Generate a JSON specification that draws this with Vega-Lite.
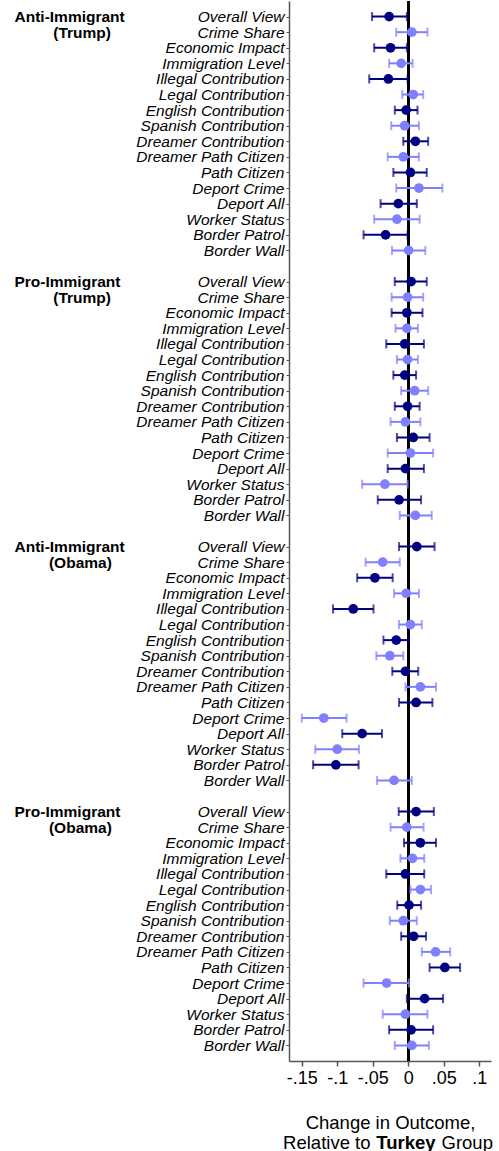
{
"$schema": "https://vega.github.io/schema/vega-lite/v6.json",
"width": 202,
"height": 1060,
"padding": {"left": 14, "top": 0, "right": 0, "bottom": 0},
"config": {"font": "Liberation Sans", "view": {"stroke": null}},
"data": {"values": [
{"key":"g1|Overall View","est":-0.027,"lo":-0.051,"hi":-0.002,"set":"A"},
{"key":"g1|Crime Share","est":0.005,"lo":-0.017,"hi":0.027,"set":"B"},
{"key":"g1|Economic Impact","est":-0.025,"lo":-0.048,"hi":-0.002,"set":"A"},
{"key":"g1|Immigration Level","est":-0.010,"lo":-0.027,"hi":0.006,"set":"B"},
{"key":"g1|Illegal Contribution","est":-0.028,"lo":-0.055,"hi":-0.001,"set":"A"},
{"key":"g1|Legal Contribution","est":0.007,"lo":-0.0085,"hi":0.021,"set":"B"},
{"key":"g1|English Contribution","est":-0.003,"lo":-0.019,"hi":0.013,"set":"A"},
{"key":"g1|Spanish Contribution","est":-0.005,"lo":-0.024,"hi":0.015,"set":"B"},
{"key":"g1|Dreamer Contribution","est":0.010,"lo":-0.007,"hi":0.028,"set":"A"},
{"key":"g1|Dreamer Path Citizen","est":-0.007,"lo":-0.029,"hi":0.015,"set":"B"},
{"key":"g1|Path Citizen","est":0.003,"lo":-0.021,"hi":0.026,"set":"A"},
{"key":"g1|Deport Crime","est":0.015,"lo":-0.017,"hi":0.048,"set":"B"},
{"key":"g1|Deport All","est":-0.014,"lo":-0.039,"hi":0.012,"set":"A"},
{"key":"g1|Worker Status","est":-0.016,"lo":-0.048,"hi":0.016,"set":"B"},
{"key":"g1|Border Patrol","est":-0.032,"lo":-0.063,"hi":-0.001,"set":"A"},
{"key":"g1|Border Wall","est":0.0005,"lo":-0.023,"hi":0.024,"set":"B"},
{"key":"g2|Overall View","est":0.004,"lo":-0.019,"hi":0.026,"set":"A"},
{"key":"g2|Crime Share","est":-0.001,"lo":-0.0235,"hi":0.021,"set":"B"},
{"key":"g2|Economic Impact","est":-0.002,"lo":-0.0235,"hi":0.020,"set":"A"},
{"key":"g2|Immigration Level","est":-0.002,"lo":-0.018,"hi":0.0135,"set":"B"},
{"key":"g2|Illegal Contribution","est":-0.005,"lo":-0.031,"hi":0.022,"set":"A"},
{"key":"g2|Legal Contribution","est":-0.001,"lo":-0.016,"hi":0.0135,"set":"B"},
{"key":"g2|English Contribution","est":-0.005,"lo":-0.021,"hi":0.011,"set":"A"},
{"key":"g2|Spanish Contribution","est":0.009,"lo":-0.010,"hi":0.028,"set":"B"},
{"key":"g2|Dreamer Contribution","est":-0.001,"lo":-0.019,"hi":0.016,"set":"A"},
{"key":"g2|Dreamer Path Citizen","est":-0.004,"lo":-0.025,"hi":0.017,"set":"B"},
{"key":"g2|Path Citizen","est":0.007,"lo":-0.016,"hi":0.030,"set":"A"},
{"key":"g2|Deport Crime","est":0.003,"lo":-0.029,"hi":0.035,"set":"B"},
{"key":"g2|Deport All","est":-0.004,"lo":-0.029,"hi":0.022,"set":"A"},
{"key":"g2|Worker Status","est":-0.033,"lo":-0.065,"hi":-0.001,"set":"B"},
{"key":"g2|Border Patrol","est":-0.013,"lo":-0.043,"hi":0.018,"set":"A"},
{"key":"g2|Border Wall","est":0.010,"lo":-0.012,"hi":0.033,"set":"B"},
{"key":"g3|Overall View","est":0.012,"lo":-0.013,"hi":0.037,"set":"A"},
{"key":"g3|Crime Share","est":-0.036,"lo":-0.060,"hi":-0.012,"set":"B"},
{"key":"g3|Economic Impact","est":-0.047,"lo":-0.072,"hi":-0.022,"set":"A"},
{"key":"g3|Immigration Level","est":-0.003,"lo":-0.020,"hi":0.015,"set":"B"},
{"key":"g3|Illegal Contribution","est":-0.0775,"lo":-0.106,"hi":-0.049,"set":"A"},
{"key":"g3|Legal Contribution","est":0.003,"lo":-0.013,"hi":0.019,"set":"B"},
{"key":"g3|English Contribution","est":-0.017,"lo":-0.035,"hi":0.001,"set":"A"},
{"key":"g3|Spanish Contribution","est":-0.026,"lo":-0.045,"hi":-0.007,"set":"B"},
{"key":"g3|Dreamer Contribution","est":-0.004,"lo":-0.0225,"hi":0.014,"set":"A"},
{"key":"g3|Dreamer Path Citizen","est":0.017,"lo":-0.004,"hi":0.039,"set":"B"},
{"key":"g3|Path Citizen","est":0.011,"lo":-0.013,"hi":0.034,"set":"A"},
{"key":"g3|Deport Crime","est":-0.119,"lo":-0.150,"hi":-0.087,"set":"B"},
{"key":"g3|Deport All","est":-0.065,"lo":-0.093,"hi":-0.037,"set":"A"},
{"key":"g3|Worker Status","est":-0.100,"lo":-0.131,"hi":-0.0695,"set":"B"},
{"key":"g3|Border Patrol","est":-0.102,"lo":-0.134,"hi":-0.070,"set":"A"},
{"key":"g3|Border Wall","est":-0.020,"lo":-0.044,"hi":0.005,"set":"B"},
{"key":"g4|Overall View","est":0.011,"lo":-0.0135,"hi":0.036,"set":"A"},
{"key":"g4|Crime Share","est":-0.002,"lo":-0.025,"hi":0.0215,"set":"B"},
{"key":"g4|Economic Impact","est":0.017,"lo":-0.006,"hi":0.039,"set":"A"},
{"key":"g4|Immigration Level","est":0.006,"lo":-0.011,"hi":0.0225,"set":"B"},
{"key":"g4|Illegal Contribution","est":-0.004,"lo":-0.031,"hi":0.0225,"set":"A"},
{"key":"g4|Legal Contribution","est":0.017,"lo":0.003,"hi":0.032,"set":"B"},
{"key":"g4|English Contribution","est":0.001,"lo":-0.0155,"hi":0.018,"set":"A"},
{"key":"g4|Spanish Contribution","est":-0.007,"lo":-0.026,"hi":0.012,"set":"B"},
{"key":"g4|Dreamer Contribution","est":0.0075,"lo":-0.010,"hi":0.025,"set":"A"},
{"key":"g4|Dreamer Path Citizen","est":0.0385,"lo":0.019,"hi":0.059,"set":"B"},
{"key":"g4|Path Citizen","est":0.0515,"lo":0.030,"hi":0.073,"set":"A"},
{"key":"g4|Deport Crime","est":-0.0305,"lo":-0.063,"hi":0.001,"set":"B"},
{"key":"g4|Deport All","est":0.023,"lo":-0.002,"hi":0.049,"set":"A"},
{"key":"g4|Worker Status","est":-0.004,"lo":-0.036,"hi":0.027,"set":"B"},
{"key":"g4|Border Patrol","est":0.004,"lo":-0.027,"hi":0.035,"set":"A"},
{"key":"g4|Border Wall","est":0.005,"lo":-0.019,"hi":0.029,"set":"B"}
]},
"layer": [
{
"layer": [
{"mark": {"type": "rule", "color": "black", "strokeWidth": 2},
 "encoding": {
  "x": {"datum": 0, "type": "quantitative", "scale": {"domain": [-0.168, 0.1165], "nice": false, "zero": false},
   "title": "Change in Outcome,"}
 }},
{"mark": {"type": "rule", "strokeWidth": 2},
 "encoding": {
  "x": {"field": "lo", "type": "quantitative", "scale": {"domain": [-0.168, 0.1165], "nice": false, "zero": false},
   "title": "Change in Outcome,",
   "axis": {"values": [-0.15, -0.1, -0.05, 0, 0.05, 0.1], "labelExpr": "(datum.value < 0 ? '-' : '') + replace(format(abs(datum.value), '~g'), '0.', '.')",
    "grid": false, "labelFontSize": 18, "labelColor": "black", "labelPadding": 3, "labelFlush": false, "tickSize": 5, "tickColor": "#555", "tickWidth": 1.5,
    "domainColor": "#555", "domainWidth": 1.5, "titleFontSize": 18.5, "titleFontWeight": "normal", "titleColor": "black",
    "titleY": 52, "titleBaseline": "top"}},
  "x2": {"field": "hi"},
  "y": {"field": "key", "type": "ordinal", "title": null,
   "scale": {"type": "point", "padding": 1, "domain": ["g1|Overall View","g1|Crime Share","g1|Economic Impact","g1|Immigration Level","g1|Illegal Contribution","g1|Legal Contribution","g1|English Contribution","g1|Spanish Contribution","g1|Dreamer Contribution","g1|Dreamer Path Citizen","g1|Path Citizen","g1|Deport Crime","g1|Deport All","g1|Worker Status","g1|Border Patrol","g1|Border Wall","b1","g2|Overall View","g2|Crime Share","g2|Economic Impact","g2|Immigration Level","g2|Illegal Contribution","g2|Legal Contribution","g2|English Contribution","g2|Spanish Contribution","g2|Dreamer Contribution","g2|Dreamer Path Citizen","g2|Path Citizen","g2|Deport Crime","g2|Deport All","g2|Worker Status","g2|Border Patrol","g2|Border Wall","b2","g3|Overall View","g3|Crime Share","g3|Economic Impact","g3|Immigration Level","g3|Illegal Contribution","g3|Legal Contribution","g3|English Contribution","g3|Spanish Contribution","g3|Dreamer Contribution","g3|Dreamer Path Citizen","g3|Path Citizen","g3|Deport Crime","g3|Deport All","g3|Worker Status","g3|Border Patrol","g3|Border Wall","b3","g4|Overall View","g4|Crime Share","g4|Economic Impact","g4|Immigration Level","g4|Illegal Contribution","g4|Legal Contribution","g4|English Contribution","g4|Spanish Contribution","g4|Dreamer Contribution","g4|Dreamer Path Citizen","g4|Path Citizen","g4|Deport Crime","g4|Deport All","g4|Worker Status","g4|Border Patrol","g4|Border Wall"]},
   "axis": {"labelExpr": "indexof(datum.value, '|') < 0 ? '' : split(datum.value, '|')[1]", "labelFontSize": 15.5, "labelFontStyle": "italic", "labelColor": "black",
    "labelPadding": 2, "labelLimit": 0, "labelOverlap": false, "tickSize": 3, "tickColor": "#555", "tickWidth": 1,
    "tickOpacity": {"condition": {"test": "indexof(datum.value, '|') < 0", "value": 0}, "value": 1},
    "domainColor": "#555", "domainWidth": 1.5, "grid": false}},
  "color": {"field": "set", "type": "nominal", "scale": {"domain": ["A", "B"], "range": ["#000080", "#8080ff"]}, "legend": null}
 }},
{"mark": {"type": "tick", "orient": "vertical", "size": 9, "thickness": 2},
 "encoding": {
  "x": {"field": "lo", "type": "quantitative", "title": "Change in Outcome,"},
  "y": {"field": "key", "type": "ordinal", "title": null},
  "color": {"field": "set", "type": "nominal", "legend": null}
 }},
{"mark": {"type": "tick", "orient": "vertical", "size": 9, "thickness": 2},
 "encoding": {
  "x": {"field": "hi", "type": "quantitative", "title": "Change in Outcome,"},
  "y": {"field": "key", "type": "ordinal", "title": null},
  "color": {"field": "set", "type": "nominal", "legend": null}
 }},
{"mark": {"type": "circle", "size": 95, "opacity": 1},
 "encoding": {
  "x": {"field": "est", "type": "quantitative", "title": "Change in Outcome,"},
  "y": {"field": "key", "type": "ordinal", "title": null},
  "color": {"field": "set", "type": "nominal", "legend": null}
 }}
]
},
{
"transform": [{"filter": "indexof(datum.key, 'Overall View') >= 0"}],
"mark": {"type": "point", "opacity": 0},
"encoding": {
 "x": {"field": "est", "type": "quantitative", "scale": {"domain": [-0.168, 0.1165], "nice": false, "zero": false},
  "axis": {"orient": "bottom", "labels": false, "ticks": false, "domain": false, "grid": false, "title": "Turkey",
   "titleFontWeight": "bold", "titleFontSize": 18.5, "titleColor": "black", "titleX": 116.5, "titleY": 72, "titleAlign": "center", "titleBaseline": "top"}},
 "y": {"field": "key", "type": "ordinal", "title": null,
  "scale": {"type": "point", "padding": 1, "domain": ["g1|Overall View","g1|Crime Share","g1|Economic Impact","g1|Immigration Level","g1|Illegal Contribution","g1|Legal Contribution","g1|English Contribution","g1|Spanish Contribution","g1|Dreamer Contribution","g1|Dreamer Path Citizen","g1|Path Citizen","g1|Deport Crime","g1|Deport All","g1|Worker Status","g1|Border Patrol","g1|Border Wall","b1","g2|Overall View","g2|Crime Share","g2|Economic Impact","g2|Immigration Level","g2|Illegal Contribution","g2|Legal Contribution","g2|English Contribution","g2|Spanish Contribution","g2|Dreamer Contribution","g2|Dreamer Path Citizen","g2|Path Citizen","g2|Deport Crime","g2|Deport All","g2|Worker Status","g2|Border Patrol","g2|Border Wall","b2","g3|Overall View","g3|Crime Share","g3|Economic Impact","g3|Immigration Level","g3|Illegal Contribution","g3|Legal Contribution","g3|English Contribution","g3|Spanish Contribution","g3|Dreamer Contribution","g3|Dreamer Path Citizen","g3|Path Citizen","g3|Deport Crime","g3|Deport All","g3|Worker Status","g3|Border Patrol","g3|Border Wall","b3","g4|Overall View","g4|Crime Share","g4|Economic Impact","g4|Immigration Level","g4|Illegal Contribution","g4|Legal Contribution","g4|English Contribution","g4|Spanish Contribution","g4|Dreamer Contribution","g4|Dreamer Path Citizen","g4|Path Citizen","g4|Deport Crime","g4|Deport All","g4|Worker Status","g4|Border Patrol","g4|Border Wall"]},
  "axis": {"orient": "left", "offset": 275, "labelExpr": "datum.value == 'g1|Overall View' ? ['Anti-Immigrant', '\u200b\u00a0\u00a0\u00a0\u00a0\u00a0\u00a0\u00a0\u00a0\u00a0(Trump)'] : datum.value == 'g2|Overall View' ? ['Pro-Immigrant', '\u200b\u00a0\u00a0\u00a0\u00a0\u00a0\u00a0\u00a0\u00a0\u00a0(Trump)'] : datum.value == 'g3|Overall View' ? ['Anti-Immigrant', '\u200b\u00a0\u00a0\u00a0\u00a0\u00a0\u00a0\u00a0\u00a0(Obama)'] : datum.value == 'g4|Overall View' ? ['Pro-Immigrant', '\u200b\u00a0\u00a0\u00a0\u00a0\u00a0\u00a0\u00a0\u00a0(Obama)'] : ''",
   "labelAlign": "left", "labelBaseline": "middle", "labelFontWeight": "bold", "labelFontSize": 15.5, "labelColor": "black", "labelLineHeight": 15.6,
   "labelPadding": 0, "labelLimit": 0, "labelOverlap": false, "ticks": false, "tickSize": 0, "domain": false, "grid": false}}
}
},
{
"mark": {"type": "point", "opacity": 0},
"encoding": {
 "x": {"field": "est", "type": "quantitative", "scale": {"domain": [-0.168, 0.1165], "nice": false, "zero": false},
  "axis": {"orient": "bottom", "labels": false, "ticks": false, "domain": false, "grid": false, "title": "Relative to",
   "titleFontWeight": "normal", "titleFontSize": 18.5, "titleColor": "black", "titleX": 81, "titleY": 72, "titleAlign": "right", "titleBaseline": "top"}}
}
},
{
"mark": {"type": "point", "opacity": 0},
"encoding": {
 "x": {"field": "est", "type": "quantitative", "scale": {"domain": [-0.168, 0.1165], "nice": false, "zero": false},
  "axis": {"orient": "bottom", "labels": false, "ticks": false, "domain": false, "grid": false, "title": "Group",
   "titleFontWeight": "normal", "titleFontSize": 18.5, "titleColor": "black", "titleX": 152, "titleY": 72, "titleAlign": "left", "titleBaseline": "top"}}
}
}
],
"resolve": {"scale": {"x": "independent", "y": "independent"}, "axis": {"x": "independent", "y": "independent"}}
}
